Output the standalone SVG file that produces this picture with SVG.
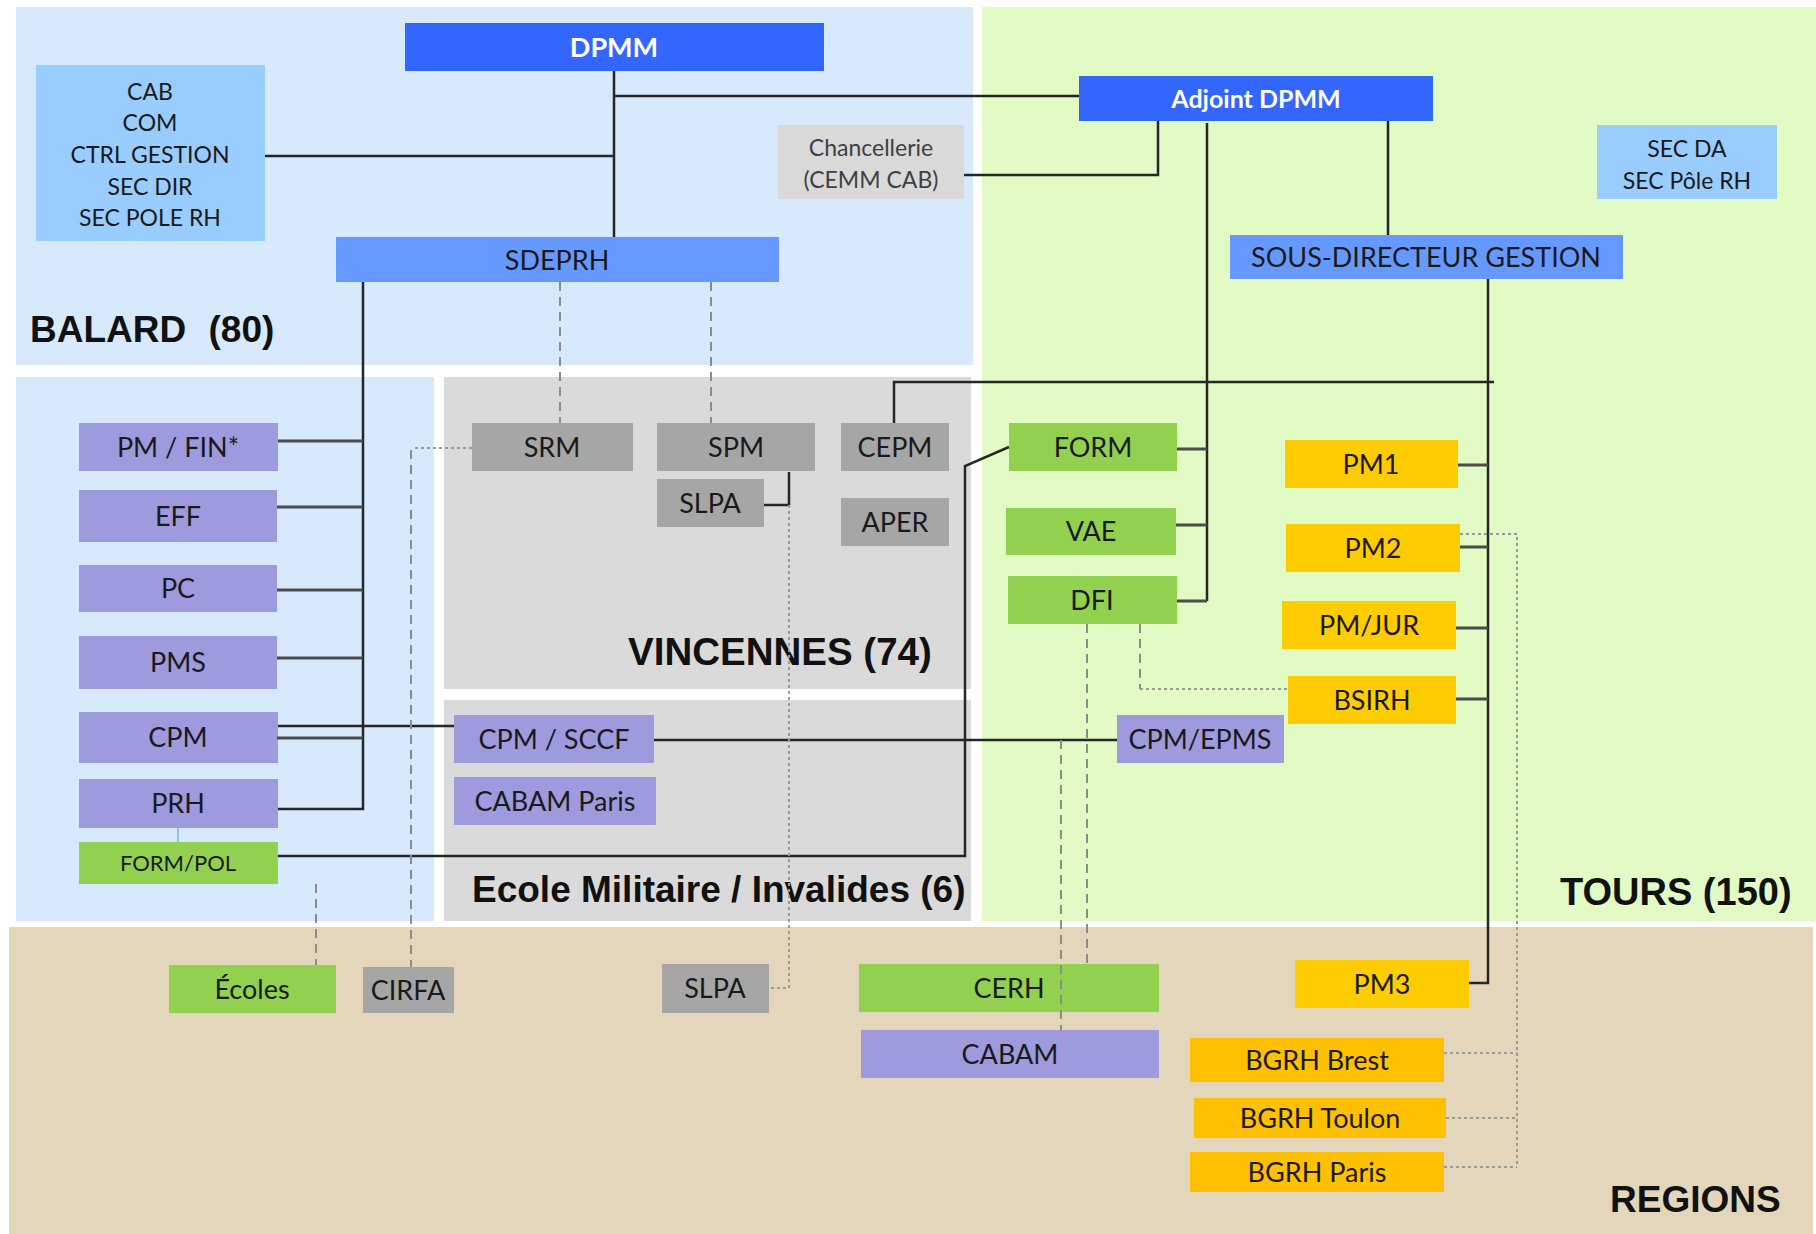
<svg xmlns="http://www.w3.org/2000/svg" width="1816" height="1234" viewBox="0 0 1816 1234">
<style>
.t{font-family:Lato,"Liberation Sans",sans-serif;font-size:27px;fill:#1a1a1a;text-anchor:middle}
.tw{font-family:Lato,"Liberation Sans",sans-serif;font-size:27px;font-weight:700;fill:#ffffff;text-anchor:middle}
.ts{font-family:Lato,"Liberation Sans",sans-serif;font-size:23px;fill:#1a1a1a;text-anchor:middle}
.tg{font-family:Lato,"Liberation Sans",sans-serif;font-size:23px;fill:#404040;text-anchor:middle}
.ti{font-family:"Liberation Sans",Arial,sans-serif;font-size:37px;font-weight:700;fill:#111111}
.b1{fill:#3366FF}.b2{fill:#6699FF}.b3{fill:#99CCFF}
.lv{fill:#9D9ADD}.gr{fill:#92D050}.gy{fill:#A6A6A6}.lg{fill:#D9D9D9}
.ye{fill:#FFCC00}.or{fill:#FFC000}
.ln{stroke:#262626;stroke-width:2.5;fill:none}
.br{stroke:#4a4a4a;stroke-width:3;fill:none}
.ds{stroke:#8c8c8c;stroke-width:2;stroke-dasharray:9 6;fill:none}
.dt{stroke:#9a9a9a;stroke-width:2;stroke-dasharray:3 3;fill:none}
</style>
<rect width="1816" height="1234" fill="#ffffff"/>
<g id="zones">
<rect x="16" y="7" width="957" height="358" fill="#D6E9FD"/>
<rect x="16" y="377" width="418" height="544" fill="#D6E9FD"/>
<rect x="444" y="377" width="527" height="312" fill="#DADADA"/>
<rect x="444" y="700" width="527" height="221" fill="#DADADA"/>
<rect x="982" y="7" width="834" height="914" fill="#E2FAC4"/>
<rect x="9" y="927" width="1804" height="307" fill="#E3D6BA"/>
<text class="ti" x="30" y="342" style="word-spacing:12px">BALARD (80)</text>
<text class="ti" x="628" y="665" style="font-size:38.5px">VINCENNES (74)</text>
<text class="ti" x="472" y="902">Ecole Militaire / Invalides (6)</text>
<text class="ti" x="1560" y="905" style="font-size:38px">TOURS (150)</text>
<text class="ti" x="1610" y="1212">REGIONS</text>
</g>
<g id="n-dpmm"><rect class="b1" x="405" y="23" width="419" height="48"/><text class="tw" x="614" y="57">DPMM</text></g>
<g id="n-cab"><rect class="b3" x="36" y="65" width="229" height="176"/>
<text class="ts" x="150" y="100">CAB</text><text class="ts" x="150" y="131">COM</text><text class="ts" x="150" y="163">CTRL GESTION</text><text class="ts" x="150" y="195">SEC DIR</text><text class="ts" x="150" y="226">SEC POLE RH</text></g>
<g id="n-chancellerie"><rect class="lg" x="778" y="125" width="186" height="74"/><text class="tg" x="871" y="156">Chancellerie</text><text class="tg" x="871" y="188">(CEMM CAB)</text></g>
<g id="n-adjoint"><rect class="b1" x="1079" y="76" width="354" height="45"/><text class="tw" x="1256" y="108" style="font-size:25px">Adjoint DPMM</text></g>
<g id="n-secda"><rect class="b3" x="1597" y="125" width="180" height="74"/><text class="ts" x="1687" y="157">SEC DA</text><text class="ts" x="1687" y="189">SEC Pôle RH</text></g>
<g id="n-sousdir"><rect class="b2" x="1230" y="235" width="393" height="44"/><text class="t" x="1426" y="267">SOUS-DIRECTEUR GESTION</text></g>
<g id="n-sdeprh"><rect class="b2" x="336" y="237" width="443" height="45"/><text class="t" x="557" y="270">SDEPRH</text></g>
<g id="n-pmfin"><rect class="lv" x="79" y="423" width="199" height="48"/><text class="t" x="178" y="457">PM / FIN*</text></g>
<g id="n-eff"><rect class="lv" x="79" y="490" width="198" height="52"/><text class="t" x="178" y="526">EFF</text></g>
<g id="n-pc"><rect class="lv" x="79" y="565" width="198" height="47"/><text class="t" x="178" y="598">PC</text></g>
<g id="n-pms"><rect class="lv" x="79" y="636" width="198" height="53"/><text class="t" x="178" y="672">PMS</text></g>
<g id="n-cpm"><rect class="lv" x="79" y="712" width="199" height="51"/><text class="t" x="178" y="747">CPM</text></g>
<g id="n-prh"><rect class="lv" x="79" y="779" width="199" height="49"/><text class="t" x="178" y="813">PRH</text></g>
<g id="n-formpol"><rect class="gr" x="79" y="842" width="199" height="42"/><text class="t" x="178" y="871" style="font-size:22px">FORM/POL</text></g>
<g id="n-srm"><rect class="gy" x="472" y="423" width="161" height="48"/><text class="t" x="552" y="457">SRM</text></g>
<g id="n-spm"><rect class="gy" x="657" y="423" width="158" height="48"/><text class="t" x="736" y="457">SPM</text></g>
<g id="n-cepm"><rect class="gy" x="841" y="423" width="108" height="48"/><text class="t" x="895" y="457">CEPM</text></g>
<g id="n-slpa1"><rect class="gy" x="657" y="479" width="107" height="48"/><text class="t" x="710" y="513">SLPA</text></g>
<g id="n-aper"><rect class="gy" x="841" y="498" width="108" height="48"/><text class="t" x="895" y="532">APER</text></g>
<g id="n-cpmsccf"><rect class="lv" x="454" y="715" width="200" height="48"/><text class="t" x="554" y="749">CPM / SCCF</text></g>
<g id="n-cabamparis"><rect class="lv" x="454" y="777" width="202" height="48"/><text class="t" x="555" y="811">CABAM Paris</text></g>
<g id="n-form"><rect class="gr" x="1009" y="423" width="168" height="48"/><text class="t" x="1093" y="457">FORM</text></g>
<g id="n-vae"><rect class="gr" x="1006" y="508" width="170" height="47"/><text class="t" x="1091" y="541">VAE</text></g>
<g id="n-dfi"><rect class="gr" x="1008" y="576" width="169" height="48"/><text class="t" x="1092" y="610">DFI</text></g>
<g id="n-pm1"><rect class="ye" x="1285" y="440" width="173" height="48"/><text class="t" x="1371" y="474">PM1</text></g>
<g id="n-pm2"><rect class="ye" x="1286" y="524" width="174" height="48"/><text class="t" x="1373" y="558">PM2</text></g>
<g id="n-pmjur"><rect class="ye" x="1282" y="601" width="174" height="48"/><text class="t" x="1369" y="635">PM/JUR</text></g>
<g id="n-bsirh"><rect class="ye" x="1288" y="676" width="168" height="48"/><text class="t" x="1372" y="710">BSIRH</text></g>
<g id="n-cpmepms"><rect class="lv" x="1117" y="715" width="167" height="48"/><text class="t" x="1200" y="749">CPM/EPMS</text></g>
<g id="n-ecoles"><rect class="gr" x="169" y="965" width="167" height="48"/><text class="t" x="252" y="999">Écoles</text></g>
<g id="n-cirfa"><rect class="gy" x="363" y="967" width="91" height="46"/><text class="t" x="408" y="1000">CIRFA</text></g>
<g id="n-slpa2"><rect class="gy" x="662" y="964" width="107" height="49"/><text class="t" x="715" y="998">SLPA</text></g>
<g id="n-cerh"><rect class="gr" x="859" y="964" width="300" height="48"/><text class="t" x="1009" y="998">CERH</text></g>
<g id="n-cabam"><rect class="lv" x="861" y="1030" width="298" height="48"/><text class="t" x="1010" y="1064">CABAM</text></g>
<g id="n-pm3"><rect class="ye" x="1295" y="960" width="174" height="48"/><text class="t" x="1382" y="994">PM3</text></g>
<g id="n-bgrhbrest"><rect class="or" x="1190" y="1038" width="254" height="44"/><text class="t" x="1317" y="1070">BGRH Brest</text></g>
<g id="n-bgrhtoulon"><rect class="or" x="1194" y="1098" width="252" height="40"/><text class="t" x="1320" y="1128">BGRH Toulon</text></g>
<g id="n-bgrhparis"><rect class="or" x="1190" y="1152" width="254" height="40"/><text class="t" x="1317" y="1182">BGRH Paris</text></g>
<g id="connectors">
<path class="ln" d="M614 71V237M614 96H1079M265 156H614"/>
<path class="ln" d="M1158 121V175H964M1207 123V601M1388 121V235"/>
<path class="br" d="M1177 449H1207M1176 525H1207M1177 601H1207"/>
<path class="ln" d="M1488 279V983H1469M894 423V382H1494"/>
<path class="br" d="M1458 465H1488M1460 547H1488M1456 628H1488M1456 699H1488"/>
<path class="ln" d="M363 282V809H278"/>
<path class="br" d="M278 441H363M277 507H363M277 590H363M277 658H363M277 738H363"/>
<path class="ln" d="M278 726H454M654 740H1117"/>
<path class="ln" d="M278 856H965V466L1009 447"/>
<path class="ln" d="M789 472V505H764"/>
<path d="M178 828V842" stroke="#8fc0e8" stroke-width="2"/>
<path class="ds" d="M560 282V423M711 282V423"/>
<path class="dt" d="M472 448H414"/>
<path class="ds" d="M411 450V967"/>
<path class="dt" d="M789 505V988H769"/>
<path class="ds" d="M316 884V965"/>
<path class="ds" d="M1140 624V689"/>
<path class="dt" d="M1140 689H1288"/>
<path class="ds" d="M1087 624V964M1061 740V1030"/>
<path class="dt" d="M1460 534H1517V1167M1444 1053H1517M1446 1118H1517M1444 1167H1517"/>
</g>
</svg>
